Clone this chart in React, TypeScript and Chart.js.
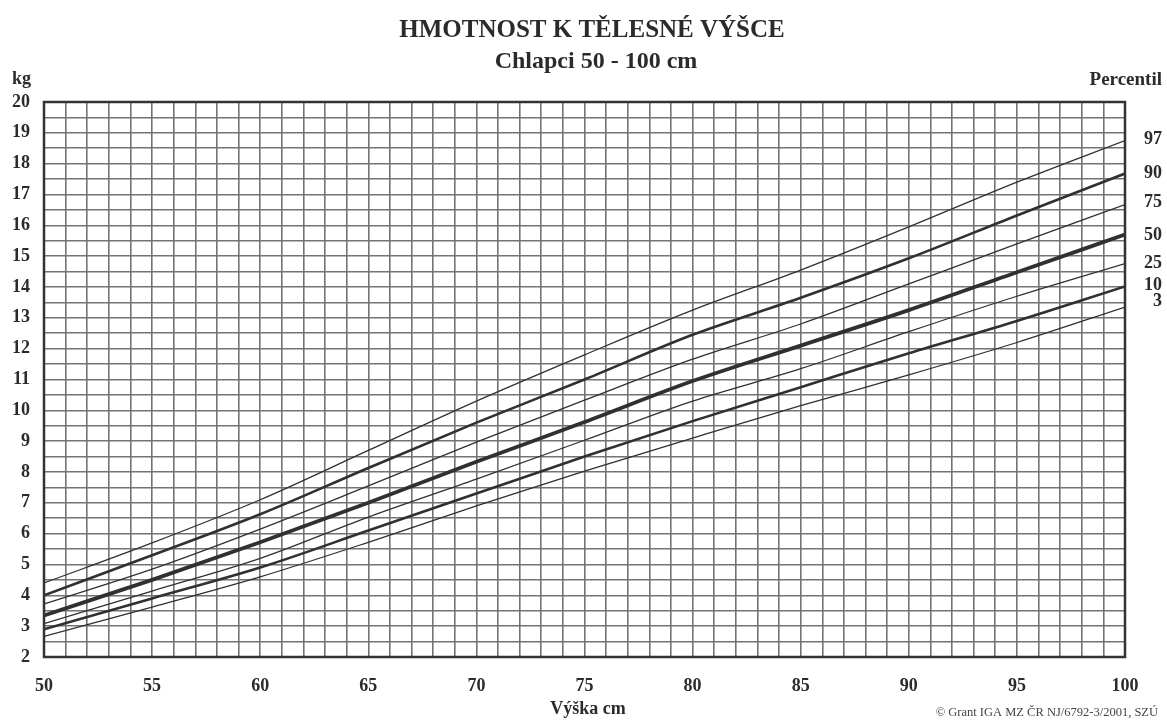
import React, { useEffect, useRef } from "react";
import { Chart, registerables } from "chart.js";

Chart.register(...registerables);

// ---- Data ----
const heightsCm = [50, 55, 60, 65, 70, 75, 80, 85, 90, 95, 100];

const p97 = [4.4, 5.7, 7.1, 8.7, 10.3, 11.8, 13.25, 14.55, 15.95, 17.4, 18.75];
const p90 = [4.0, 5.3, 6.63, 8.13, 9.6, 11.0, 12.45, 13.65, 14.93, 16.32, 17.68];
const p75 = [3.72, 4.85, 6.15, 7.55, 8.97, 10.33, 11.66, 12.8, 14.1, 15.4, 16.67];
const p50 = [3.35, 4.5, 5.72, 7.0, 8.33, 9.62, 10.95, 12.1, 13.25, 14.48, 15.7];
const p25 = [3.08, 4.14, 5.2, 6.54, 7.77, 9.03, 10.3, 11.35, 12.55, 13.7, 14.76];
const p10 = [2.9, 3.9, 4.9, 6.1, 7.3, 8.5, 9.65, 10.75, 11.85, 12.9, 14.02];
const p3 = [2.67, 3.62, 4.6, 5.72, 6.9, 8.03, 9.1, 10.15, 11.15, 12.2, 13.35];

const percentileNames = ["97", "90", "75", "50", "25", "10", "3"];
const percentileSeries = [p97, p90, p75, p50, p25, p10, p3];
const percentileWeights = ["thin", "thick", "thin", "heavy", "thin", "thick", "thin"];

const xMin = 50;
const xMax = 100;
const xLabelEvery = 5;
const yMin = 2;
const yMax = 20;

const TITLE = "HMOTNOST K TĚLESNÉ VÝŠCE";
const SUBTITLE = "Chlapci 50 - 100 cm";
const Y_UNIT = "kg";
const RIGHT_HEADER = "Percentil";
const X_TITLE = "Výška cm";
const COPYRIGHT = "© Grant IGA MZ ČR NJ/6792-3/2001, SZÚ";

const SERIF = '"Liberation Serif", "DejaVu Serif", serif';
const INK = "#2b2b2b";

const widthFor: Record<string, number> = { thin: 1.3, thick: 2.6, heavy: 3.8 };
// small vertical nudges (px) for the end labels so they do not collide
const labelNudge = [-1, 0, -2, 1, 0, -1, -6];

const textPlugin = {
  id: "growthTexts",
  afterDraw(chart: any) {
    const { ctx, chartArea, scales } = chart;
    ctx.save();
    // frame
    ctx.strokeStyle = "#333";
    ctx.lineWidth = 2.5;
    ctx.strokeRect(
      chartArea.left,
      chartArea.top,
      chartArea.right - chartArea.left,
      chartArea.bottom - chartArea.top
    );

    ctx.fillStyle = INK;
    ctx.textBaseline = "middle";

    // titles
    ctx.textAlign = "center";
    ctx.font = `bold 25px ${SERIF}`;
    ctx.fillText(TITLE, 592, 31);
    ctx.font = `bold 24px ${SERIF}`;
    ctx.fillText(SUBTITLE, 596, 62);

    // unit labels
    ctx.font = `bold 18px ${SERIF}`;
    ctx.textAlign = "left";
    ctx.fillText(Y_UNIT, 12, 79);
    ctx.textAlign = "right";
    ctx.font = `bold 19px ${SERIF}`;
    ctx.fillText(RIGHT_HEADER, 1162, 80);

    // percentile labels at line ends
    ctx.font = `bold 18px ${SERIF}`;
    const ys = scales.y;
    percentileSeries.forEach((s, i) => {
      const py = ys.getPixelForValue(s[s.length - 1]) + labelNudge[i];
      ctx.fillText(percentileNames[i], 1162, py);
    });

    // x title
    ctx.textAlign = "center";
    ctx.fillText(X_TITLE, 588, 709);

    // copyright
    ctx.font = `12.5px ${SERIF}`;
    ctx.fillStyle = "#444";
    ctx.textAlign = "right";
    ctx.fillText(COPYRIGHT, 1158, 713);
    ctx.restore();
  },
};

export default function App() {
  const canvasRef = useRef<HTMLCanvasElement | null>(null);

  useEffect(() => {
    const canvas = canvasRef.current;
    if (!canvas) return;
    const datasets = percentileSeries.map((s, i) => ({
      label: percentileNames[i],
      data: s.map((v, j) => ({ x: heightsCm[j], y: v })),
      borderColor: "#303030",
      borderWidth: widthFor[percentileWeights[i]],
      pointRadius: 0,
      fill: false,
      cubicInterpolationMode: "monotone" as const,
    }));

    const tickFont = { family: SERIF, size: 18, weight: "bold" as const };

    const chart = new Chart(canvas, {
      type: "line",
      data: { datasets },
      plugins: [textPlugin],
      options: {
        animation: false,
        responsive: false,
        devicePixelRatio: 1,
        layout: { padding: { top: 102, right: 42, left: 0, bottom: 0 } },
        plugins: {
          legend: { display: false },
          tooltip: { enabled: false },
          title: { display: false },
        },
        scales: {
          x: {
            type: "linear",
            min: xMin,
            max: xMax,
            ticks: {
              stepSize: 1,
              autoSkip: false,
              maxRotation: 0,
              padding: 19,
              font: tickFont,
              color: INK,
              callback: (v: any) => (Number(v) % xLabelEvery === 0 ? String(v) : ""),
            },
            grid: { color: "#737373", lineWidth: 1.6, drawTicks: false },
            border: { display: false },
            afterFit: (s: any) => {
              s.height = 65;
            },
          },
          y: {
            type: "linear",
            min: yMin,
            max: yMax,
            ticks: {
              stepSize: 0.5,
              autoSkip: false,
              padding: 14,
              font: tickFont,
              color: INK,
              callback: (v: any) => (Number.isInteger(Number(v)) ? String(v) : ""),
            },
            grid: { color: "#737373", lineWidth: 1.6, drawTicks: false },
            border: { display: false },
            afterFit: (s: any) => {
              s.width = 44;
            },
          },
        },
      },
    });
    return () => chart.destroy();
  }, []);

  return (
    <div
      style={{
        position: "fixed",
        left: 0,
        top: 0,
        width: 1167,
        height: 722,
        background: "#fff",
      }}
    >
      <canvas ref={canvasRef} width={1167} height={722} style={{ width: 1167, height: 722 }} />
    </div>
  );
}
